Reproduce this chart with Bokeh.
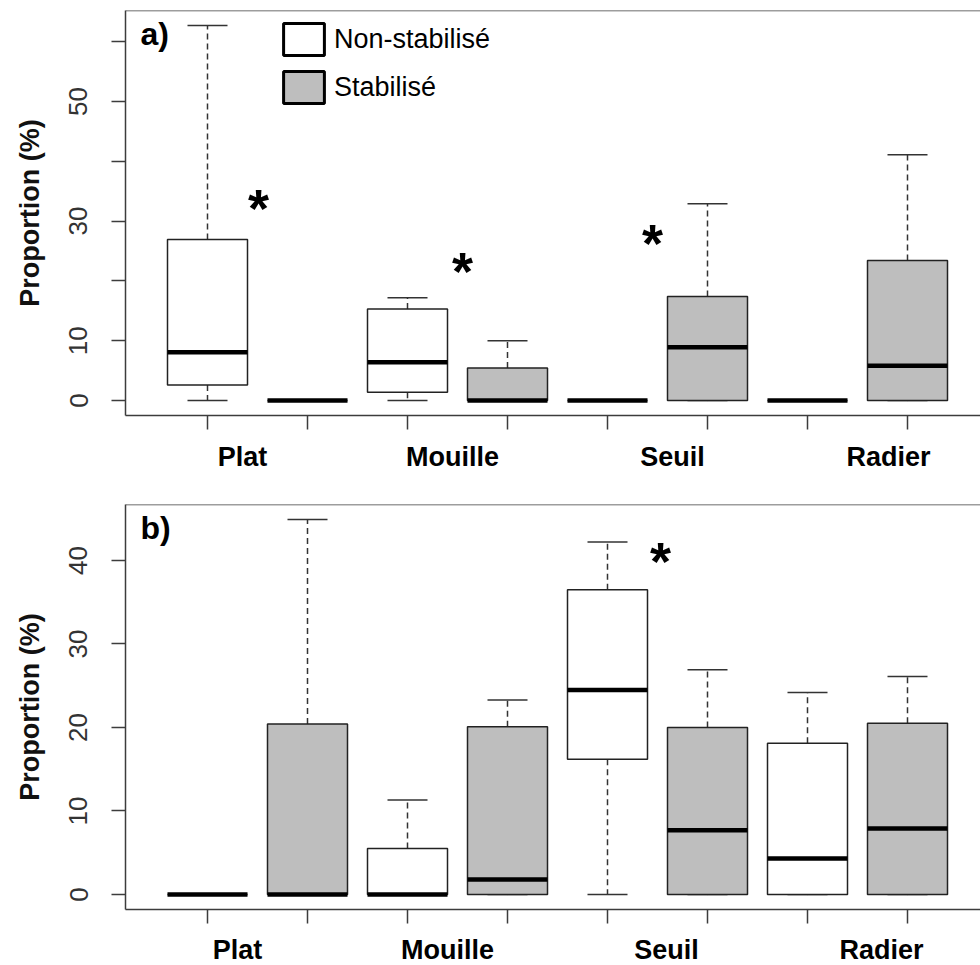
from bokeh.plotting import figure
from bokeh.models import (Range1d, FixedTicker, Span, ColumnDataSource, LinearAxis,
                          Legend, LegendItem)
from bokeh.layouts import column
from bokeh.core.properties import value
from bokeh.embed import file_html
from bokeh.resources import INLINE

# ---------------- data ----------------
categories = ["Plat", "Mouille", "Seuil", "Radier"]
groups = ["Non-stabilisé", "Stabilisé"]
# box order: Plat NS, Plat S, Mouille NS, Mouille S, Seuil NS, Seuil S, Radier NS, Radier S
box_pos = [1, 2, 3, 4, 5, 6, 7, 8]
box_group = [0, 1, 0, 1, 0, 1, 0, 1]

a_lower = [0, 0, 0, 0, 0, 0, 0, 0]
a_q1 = [2.6, 0, 1.4, 0, 0, 0, 0, 0]
a_median = [8.05, 0, 6.4, 0, 0, 8.9, 0, 5.8]
a_q3 = [26.9, 0, 15.3, 5.45, 0, 17.4, 0, 23.4]
a_upper = [62.7, 0, 17.2, 10.0, 0, 32.9, 0, 41.1]

b_lower = [0, 0, 0, 0, 0, 0, 0, 0]
b_q1 = [0, 0, 0, 0, 16.2, 0, 0, 0]
b_median = [0, 0, 0, 1.8, 24.5, 7.7, 4.3, 7.9]
b_q3 = [0, 20.4, 5.5, 20.1, 36.5, 20.0, 18.1, 20.5]
b_upper = [0, 44.9, 11.3, 23.3, 42.2, 26.9, 24.2, 26.1]

a_label_x = [1.35, 3.45, 5.65, 7.81]
b_label_x = [1.30, 3.40, 5.59, 7.74]

a_yticks = [0, 10, 20, 30, 40, 50, 60]
a_ytick_labels = ["0", "10", "", "30", "", "50", ""]
b_yticks = [0, 10, 20, 30, 40]
b_ytick_labels = ["0", "10", "20", "30", "40"]

a_star_x = [1.51, 3.55, 5.45]
a_star_y = [33.3, 22.8, 27.5]
b_star_x = [5.53]
b_star_y = [40.7]

# ---------------- style ----------------
FONT = "Liberation Sans"
FRAME_COL = "#3c3c3c"
GREY = "#bebebe"
FRAME_W = 855
FRAME_H = 405
PX_PER_X = 100.0
BOXWEX = 0.8
NAN = float("nan")


def make_panel(lower, q1, med, q3, upper, yticks, ylabels, label_x, star_x, star_y,
               tag, top_border, bottom_border, label_standoff, legend=False):
    lo_d = min(lower)
    hi_d = max(upper)
    ext = 0.04 * (hi_d - lo_d)
    y0, y1 = lo_d - ext, hi_d + ext
    ppu = FRAME_H / (y1 - y0)
    x0 = 0.5 - 0.04 * len(box_pos)
    x1 = x0 + FRAME_W / PX_PER_X

    p = figure(frame_width=FRAME_W, frame_height=FRAME_H,
               x_range=Range1d(x0, x1), y_range=Range1d(y0, y1),
               output_backend="svg", toolbar_location=None, title=None,
               min_border_left=125, min_border_right=0,
               min_border_top=top_border, min_border_bottom=bottom_border,
               outline_line_color=None, background_fill_color="white",
               border_fill_color="white")
    p.grid.visible = False

    # tick-mark axis
    xa = p.xaxis[0]
    xa.ticker = FixedTicker(ticks=box_pos)
    xa.major_label_overrides = {t: "" for t in box_pos}
    xa.major_label_text_font_size = "1px"
    xa.major_label_standoff = 0
    xa.major_tick_out = 14
    xa.major_tick_in = 0
    xa.minor_tick_out = 0
    xa.minor_tick_in = 0
    xa.axis_line_color = FRAME_COL
    xa.axis_line_width = 1.5
    xa.major_tick_line_color = FRAME_COL
    xa.major_tick_line_width = 1.5

    # category-label axis
    la = LinearAxis(ticker=FixedTicker(ticks=label_x),
                    major_label_overrides={x: c for x, c in zip(label_x, categories)},
                    major_tick_out=0, major_tick_in=0, minor_tick_out=0, minor_tick_in=0,
                    axis_line_color=None, major_tick_line_color=None,
                    minor_tick_line_color=None,
                    major_label_text_font=FONT, major_label_text_font_style="bold",
                    major_label_text_font_size="27px", major_label_text_color="black",
                    major_label_standoff=label_standoff)
    p.add_layout(la, "below")

    ya = p.yaxis[0]
    ya.ticker = FixedTicker(ticks=yticks)
    ya.major_label_overrides = {t: l for t, l in zip(yticks, ylabels)}
    ya.major_label_orientation = "vertical"
    ya.major_label_text_font = FONT
    ya.major_label_text_font_size = "26px"
    ya.major_label_text_color = "#333333"
    ya.major_label_standoff = 24
    ya.major_tick_out = 14
    ya.major_tick_in = 0
    ya.minor_tick_out = 0
    ya.minor_tick_in = 0
    ya.axis_line_color = FRAME_COL
    ya.axis_line_width = 1.5
    ya.major_tick_line_color = FRAME_COL
    ya.major_tick_line_width = 1.5
    ya.axis_label = "Proportion (%)"
    ya.axis_label_text_font = FONT
    ya.axis_label_text_font_style = "bold"
    ya.axis_label_text_font_size = "27px"
    ya.axis_label_text_color = "#111111"
    ya.axis_label_standoff = 22

    p.add_layout(Span(location=y1, dimension="width", line_color=FRAME_COL, line_width=1.5))

    half = BOXWEX / 2
    src = ColumnDataSource(dict(
        pos=box_pos,
        left=[b - half for b in box_pos],
        right=[b + half for b in box_pos],
        sl=[b - half / 2 for b in box_pos],
        sr=[b + half / 2 for b in box_pos],
        lower=lower, q1=q1, med=med, q3=q3, upper=upper,
        fill=[["white", GREY][g] for g in box_group],
    ))

    # whiskers
    p.segment(x0="pos", y0="q3", x1="pos", y1="upper", source=src,
              line_color="#333333", line_width=1.5, line_dash="6 4")
    p.segment(x0="pos", y0="q1", x1="pos", y1="lower", source=src,
              line_color="#333333", line_width=1.5, line_dash="6 4")
    # staples
    p.segment(x0="sl", y0="upper", x1="sr", y1="upper", source=src,
              line_color="#333333", line_width=1.5)
    p.segment(x0="sl", y0="lower", x1="sr", y1="lower", source=src,
              line_color="#333333", line_width=1.5)
    # boxes
    p.quad(left="left", right="right", bottom="q1", top="q3", source=src,
           fill_color="fill", line_color="#222222", line_width=1.5)
    # medians
    p.segment(x0="left", y0="med", x1="right", y1="med", source=src,
              line_color="black", line_width=4.5)

    # significance asterisks (glyph centred on the given point)
    star_size = 54
    star_src = ColumnDataSource(dict(
        x=star_x, y=[v - 6.5 / ppu for v in star_y], t=["*"] * len(star_x)))
    p.text(x="x", y="y", text="t", source=star_src, text_align="center",
           text_baseline="alphabetic", text_font=value(FONT), text_font_style="bold",
           text_font_size=f"{star_size}px", text_color="black")

    # panel tag
    tag_src = ColumnDataSource(dict(x=[x0 + 15 / PX_PER_X], y=[y1 - 23 / ppu], t=[tag]))
    p.text(x="x", y="y", text="t", source=tag_src, text_align="left",
           text_baseline="alphabetic", text_font=value(FONT), text_font_style="bold",
           text_font_size="32px", text_color="black")

    if legend:
        r_ns = p.quad(left=[NAN], right=[NAN], bottom=[NAN], top=[NAN], fill_color="white",
                      line_color="black", line_width=3)
        r_s = p.quad(left=[NAN], right=[NAN], bottom=[NAN], top=[NAN], fill_color=GREY,
                     line_color="black", line_width=3)
        leg = Legend(items=[LegendItem(label=groups[0], renderers=[r_ns]),
                            LegendItem(label=groups[1], renderers=[r_s])],
                     location=(153, 308), glyph_width=51, glyph_height=40,
                     label_height=40, spacing=8, padding=0, margin=0,
                     label_standoff=5, label_text_font=FONT,
                     label_text_font_size="27px", label_text_color="black",
                     border_line_color=None, background_fill_alpha=0)
        p.add_layout(leg)
    return p


pa = make_panel(a_lower, a_q1, a_median, a_q3, a_upper, a_yticks, a_ytick_labels,
                a_label_x, a_star_x, a_star_y, "a)", 10, 65, 12, legend=True)
pb = make_panel(b_lower, b_q1, b_median, b_q3, b_upper, b_yticks, b_ytick_labels,
                b_label_x, b_star_x, b_star_y, "b)", 24, 55, 11)

layout = column(pa, pb, spacing=0)
open("out.html", "w").write(file_html(layout, INLINE))
